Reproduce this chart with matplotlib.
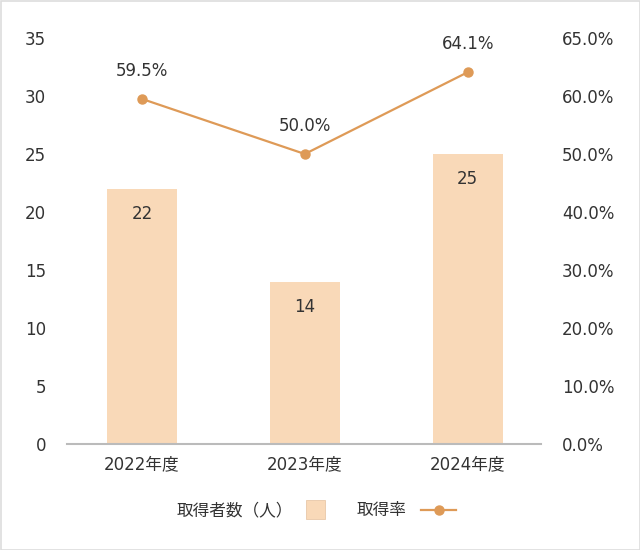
import matplotlib
matplotlib.use('Agg')
import matplotlib.pyplot as plt
from matplotlib.patches import Rectangle
from matplotlib.lines import Line2D

plt.rcParams['font.family'] = ['DejaVu Sans', 'Noto Sans CJK JP']

# データ
years = ['2022年度', '2023年度', '2024年度']
holders = [22, 14, 25]
rates = [59.5, 50.0, 64.1]
left_ticks = [0, 5, 10, 15, 20, 25, 30, 35]
right_ticks = [0, 10, 20, 30, 40, 50, 60, 70]
right_labels = ['0.0%', '10.0%', '20.0%', '30.0%', '40.0%', '50.0%', '60.0%', '65.0%']

bar_col = '#F9D9B8'
line_col = '#DE9A57'
txt_col = '#333333'
fs = 12

W, H = 640, 550
fig = plt.figure(figsize=(W/100, H/100), dpi=100)
ax = fig.add_axes([67/W, 1-444/H, (541-67)/W, (444-38)/H])
ax2 = ax.twinx()

x = list(range(len(years)))
ax.bar(x, holders, width=0.43, color=bar_col, zorder=1)
for xi, v in zip(x, holders):
    ax.annotate(str(v), (xi, v), xytext=(0, -25), textcoords='offset pixels',
                ha='center', va='center', fontsize=fs, color=txt_col)

ax2.plot(x, rates, color=line_col, lw=1.6, marker='o', ms=6.5, zorder=3)
for xi, v in zip(x, rates):
    ax2.annotate('%.1f%%' % v, (xi, v), xytext=(0, 28), textcoords='offset pixels',
                 ha='center', va='center', fontsize=fs, color=txt_col)

ax.set_xlim(-0.46, 2.45)
ax.set_ylim(0, 35)
ax2.set_ylim(0, 70)
ax.set_yticks(left_ticks)
ax2.set_yticks(right_ticks)
ax2.set_yticklabels(right_labels)
ax.set_xticks(x)
ax.set_xticklabels(years)

for a in (ax, ax2):
    for s in a.spines.values():
        s.set_visible(False)
    a.tick_params(length=0, labelsize=fs, colors=txt_col)
ax.spines['bottom'].set_visible(True)
ax.spines['bottom'].set_color('#BBBBBB')
ax.spines['bottom'].set_linewidth(1.5)
ax.tick_params(axis='y', pad=15)
ax2.tick_params(axis='y', pad=15)
ax.tick_params(axis='x', pad=8)
ax.set_zorder(1)
ax2.set_zorder(2)
ax.patch.set_visible(False)
ax2.patch.set_visible(False)

# 凡例
ly = 1 - 510/H
fig.text(293/W, ly, '取得者数（人）', ha='right', va='center', fontsize=fs, color=txt_col)
fig.add_artist(Rectangle((306/W, 1-519/H), 19/W, 19/H, transform=fig.transFigure,
                         facecolor=bar_col, edgecolor='#E8C8A8', lw=0.6))
fig.text(357/W, ly, '取得率', ha='left', va='center', fontsize=fs, color=txt_col)
fig.add_artist(Line2D([421/W, 456/W], [ly, ly], transform=fig.transFigure,
                      color=line_col, lw=1.6))
fig.add_artist(Line2D([438.5/W], [ly], transform=fig.transFigure,
                      color=line_col, marker='o', ms=6.5))

# 枠線
fig.add_artist(Rectangle((0.5/W, 0.5/H), (W-1)/W, (H-1)/H, transform=fig.transFigure,
                         fill=False, edgecolor='#DDDDDD', lw=1.2))

fig.savefig('out.png', dpi=100)
